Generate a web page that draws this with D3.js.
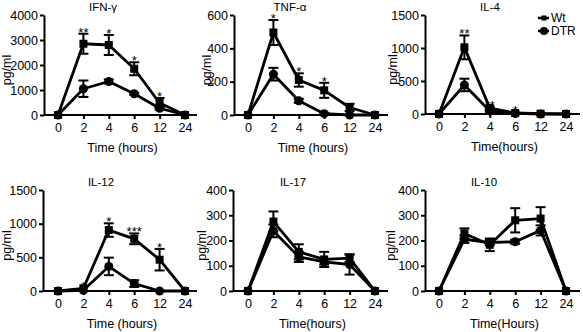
<!DOCTYPE html>
<html>
<head>
<meta charset="utf-8">
<script src="https://cdn.jsdelivr.net/npm/d3@7"></script>
<style>
  body { margin: 0; background: #fff; }
  svg { display: block; font-family: "Liberation Sans", Arial, sans-serif; }
</style>
</head>
<body>
<svg id="chart" width="583" height="332"></svg>
<script>
// categories
const times = ["0", "2", "4", "6", "12", "24"];
const panelNames = ["IFN-γ", "TNF-α", "IL-4", "IL-12", "IL-17", "IL-10"];
const xTitles = ["Time (hours)", "Time (hours)", "Time(hours)", "Time (hours)", "Time(hours)", "Time(Hours)"];
const yMax = [4000, 600, 1500, 1500, 400, 400];
const yStep = [1000, 200, 500, 500, 100, 100];

// series values (pg/ml), one row per panel
const wtMean = [
  [0, 2850, 2800, 1850, 480, 0],
  [0, 495, 210, 148, 45, 0],
  [0, 1010, 90, 15, 5, 0],
  [0, 40, 905, 775, 465, 0],
  [0, 275, 155, 125, 130, 0],
  [0, 228, 183, 280, 287, 0]
];
const wtErr = [
  [0, 400, 400, 260, 200, 0],
  [0, 75, 40, 45, 22, 0],
  [0, 180, 20, 8, 0, 0],
  [0, 0, 100, 80, 160, 0],
  [0, 40, 30, 30, 15, 0],
  [0, 20, 25, 48, 45, 0]
];
const dtrMean = [
  [0, 1050, 1340, 850, 270, 0],
  [0, 245, 85, 8, 0, 0],
  [0, 440, 45, 8, 0, 0],
  [0, 10, 365, 110, 0, 0],
  [0, 238, 135, 115, 105, 0],
  [0, 205, 192, 195, 240, 0]
];
const dtrErr = [
  [0, 330, 80, 40, 50, 0],
  [0, 38, 12, 5, 0, 0],
  [0, 95, 10, 5, 0, 0],
  [0, 0, 130, 50, 0, 0],
  [0, 25, 20, 10, 40, 0],
  [0, 15, 10, 8, 20, 0]
];
// significance marks
const stars = [
  ["", "**", "*", "*", "*", ""],
  ["", "*", "*", "*", "", ""],
  ["", "**", "**", "*", "", ""],
  ["", "*", "*", "***", "*", ""],
  ["", "", "", "", "", ""],
  ["", "", "", "", "", ""]
];

// panel placement
const layout = [
  {ax: 44, top: 15, bot: 115, x0: 58, x1: 185, end: 197, ylab: 11, title: 103},
  {ax: 234, top: 15, bot: 115, x0: 248, x1: 375, end: 388, ylab: 211, title: 290},
  {ax: 425, top: 15, bot: 114, x0: 439, x1: 566, end: 580, ylab: 397, title: 490},
  {ax: 43, top: 190, bot: 291, x0: 58, x1: 185, end: 197, ylab: 11, title: 101},
  {ax: 233, top: 190, bot: 291, x0: 248, x1: 375, end: 388, ylab: 206, title: 293},
  {ax: 425, top: 190, bot: 291, x0: 439, x1: 566, end: 580, ylab: 395, title: 484}
];

const svg = d3.select("#chart");

layout.forEach((L, p) => {
  const g = svg.append("g");
  const x = d3.scalePoint().domain(times).range([L.x0, L.x1]);
  const y = d3.scaleLinear().domain([0, yMax[p]]).range([L.bot, L.top]);

  // y axis
  const yAxis = d3.axisLeft(y).tickValues(d3.range(0, yMax[p] + 1, yStep[p]))
    .tickFormat(d3.format("d")).tickSize(4).tickPadding(2).tickSizeOuter(0);
  const ya = g.append("g").attr("transform", `translate(${L.ax},0)`).call(yAxis);
  ya.select(".domain").attr("stroke-width", 2);
  ya.selectAll(".tick line").attr("stroke-width", 2);
  ya.selectAll("text").attr("font-size", 12.5).attr("font-family", "Liberation Sans, Arial, sans-serif");

  // x axis
  g.append("line").attr("x1", L.ax).attr("x2", L.end).attr("y1", L.bot).attr("y2", L.bot)
    .attr("stroke", "#000").attr("stroke-width", 2);
  const xa = d3.axisBottom(x).tickSize(4).tickPadding(4);
  const xg = g.append("g").attr("transform", `translate(0,${L.bot})`).call(xa);
  xg.select(".domain").remove();
  xg.selectAll(".tick line").attr("stroke-width", 2);
  xg.selectAll("text").attr("font-size", 12.5).attr("font-family", "Liberation Sans, Arial, sans-serif");

  // titles and labels
  g.append("text").attr("x", L.title).attr("y", L.top - 4).attr("text-anchor", "middle")
    .attr("font-size", 11.5).text(panelNames[p]);
  g.append("text").attr("x", (L.ax + L.end) / 2 + 2).attr("y", L.bot + 37).attr("text-anchor", "middle")
    .attr("font-size", 12.5).text(xTitles[p]);
  g.append("text").attr("transform", `translate(${L.ylab},${(L.top + L.bot) / 2 + 5}) rotate(-90)`)
    .attr("text-anchor", "middle").attr("font-size", 12.5).text("pg/ml");

  const series = [
    {mean: dtrMean[p], err: dtrErr[p], shape: "circle"},
    {mean: wtMean[p], err: wtErr[p], shape: "square"}
  ];
  const line = d3.line().x((d, i) => x(times[i])).y(d => y(d));

  series.forEach(s => {
    g.append("path").attr("d", line(s.mean)).attr("fill", "none")
      .attr("stroke", "#000").attr("stroke-width", 2.8).attr("stroke-linejoin", "round");
  });

  series.forEach(s => {
    s.mean.forEach((v, i) => {
      const e = s.err[i];
      if (!e) return;
      const cx = x(times[i]);
      g.append("line").attr("x1", cx).attr("x2", cx).attr("y1", y(v - e)).attr("y2", y(v + e))
        .attr("stroke", "#000").attr("stroke-width", 2);
      [v - e, v + e].forEach(b => {
        g.append("line").attr("x1", cx - 5).attr("x2", cx + 5).attr("y1", y(b)).attr("y2", y(b))
          .attr("stroke", "#000").attr("stroke-width", 2);
      });
    });
  });

  series.forEach(s => {
    s.mean.forEach((v, i) => {
      const cx = x(times[i]), cy = y(v);
      if (s.shape === "circle") {
        g.append("circle").attr("cx", cx).attr("cy", cy).attr("r", 4.5).attr("fill", "#000");
      } else {
        g.append("rect").attr("x", cx - 4).attr("y", cy - 4).attr("width", 8).attr("height", 8).attr("fill", "#000");
      }
    });
  });

  // stars above the highest error bar
  stars[p].forEach((st, i) => {
    if (!st) return;
    const topVal = Math.max(wtMean[p][i] + wtErr[p][i], dtrMean[p][i] + dtrErr[p][i]);
    g.append("text").attr("x", x(times[i])).attr("y", y(topVal) + 3)
      .attr("text-anchor", "middle").attr("font-size", 13).text(st);
  });
});

// legend
const legend = [
  {name: "Wt", shape: "square", y: 18},
  {name: "DTR", shape: "circle", y: 31}
];
legend.forEach(d => {
  svg.append("line").attr("x1", 538).attr("x2", 549).attr("y1", d.y).attr("y2", d.y)
    .attr("stroke", "#000").attr("stroke-width", 2.5);
  if (d.shape === "circle") {
    svg.append("circle").attr("cx", 544).attr("cy", d.y).attr("r", 4).attr("fill", "#000");
  } else {
    svg.append("rect").attr("x", 541.5).attr("y", d.y - 2.5).attr("width", 5).attr("height", 5).attr("fill", "#000");
  }
  svg.append("text").attr("x", 551).attr("y", d.y + 4).attr("font-size", 12).text(d.name);
});
</script>
</body>
</html>
